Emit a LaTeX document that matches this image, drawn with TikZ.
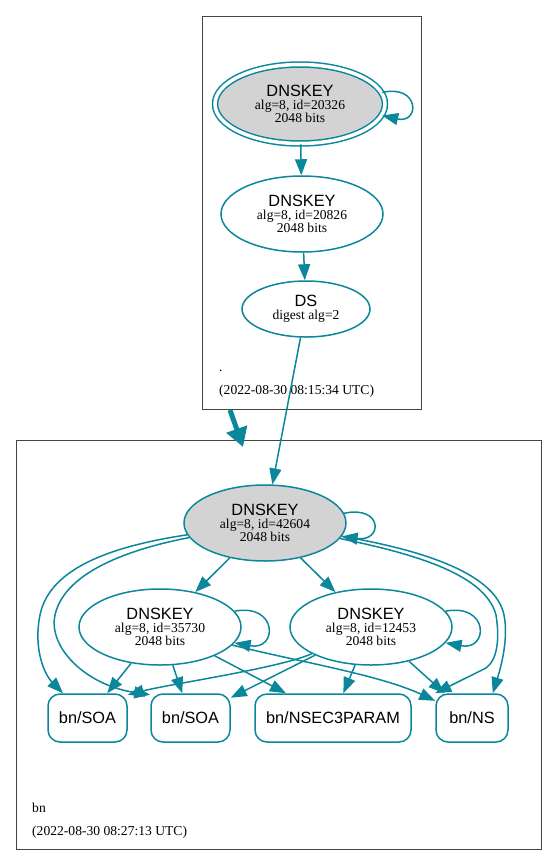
\documentclass[tikz,border=0pt]{standalone}
\usepackage{fontspec}
\setmainfont{Liberation Serif}
\newfontfamily\labelsans{Liberation Sans}
\usetikzlibrary{shapes.geometric,arrows.meta}
\definecolor{secure}{HTML}{0A879A}
\definecolor{zoneline}{HTML}{444444}
\definecolor{keyfill}{HTML}{D3D3D3}
\newcommand{\dnskeytext}[1]{{\labelsans\fontsize{16.3}{16}\selectfont DNSKEY}\\[-0.5pt] alg=8, id=#1\\[-1pt] 2048 bits}
\begin{document}
\begin{tikzpicture}[x=1pt,y=-1pt,
    keynode/.style={ellipse,draw=secure,line width=1.5pt,inner sep=0pt,minimum width=162pt,minimum height=76pt,align=center,font=\fontsize{13.6}{13.5}\selectfont},
    rrnode/.style={rectangle,rounded corners=12pt,draw=secure,line width=1.5pt,minimum height=48pt,font=\labelsans\fontsize{16.3}{18}\selectfont},
    secline/.style={draw=secure,line width=1.5pt,-{Triangle[length=16pt,width=12pt]}},
    zonetext/.style={anchor=base west,inner sep=0pt,font=\fontsize{13.6}{15}\selectfont}]
      \useasboundingbox (0,0) rectangle (557,865);
      % zones
      \draw[zoneline,line width=0.8pt] (202,16) rectangle (421,409);
      \draw[zoneline,line width=0.8pt] (16,440) rectangle (541,849);
      \node[zonetext] (rootname) at (219,371) {.};
      \node[zonetext] (roottime) at (219,394) {(2022-08-30 08:15:34 UTC)};
      \node[zonetext] (bnname) at (32,812) {bn};
      \node[zonetext] (bntime) at (32,835) {(2022-08-30 08:27:13 UTC)};
      % root zone
      \node[keynode,fill=keyfill,double,double distance=3.5pt,minimum width=170pt,minimum height=79pt] (ksk) at (300,104) {\dnskeytext{20326}};
      \node[keynode] (zsk) at (302,214) {\dnskeytext{20826}};
      \node[keynode,minimum width=128pt,minimum height=56pt] (ds) at (306,309) {{\labelsans\fontsize{16.3}{16}\selectfont DS}\\ digest alg=2};
      % bn zone
      \node[keynode,fill=keyfill] (bnksk) at (265,523) {\dnskeytext{42604}};
      \node[keynode] (bnzsk1) at (160,627) {\dnskeytext{35730}};
      \node[keynode] (bnzsk2) at (371,627) {\dnskeytext{12453}};
      \node[rrnode,minimum width=79pt] (soa1) at (87.5,718) {bn/SOA};
      \node[rrnode,minimum width=79pt] (soa2) at (190.5,718) {bn/SOA};
      \node[rrnode,minimum width=156pt] (nsec3param) at (333,718) {bn/NSEC3PARAM};
      \node[rrnode,minimum width=72pt] (ns) at (472,718) {bn/NS};
      % delegation
      \coordinate (zonetail) at (230,410);
      \coordinate (zonehead) at (243,447);
      \draw[secure,line width=5pt,-{Triangle[length=19pt,width=21pt]}] (zonetail) -- (zonehead);
      % chain of trust
      \draw[secline] (ksk.8) .. controls (420,84) and (420,124) .. (ksk.-8);
      \draw[secline] (ksk) -- (zsk);
      \draw[secline] (zsk) -- (ds);
      \draw[secline] (ds) -- (bnksk);
      \draw[secline] (bnksk.7) .. controls (383,505) and (383,542) .. (bnksk.-10);
      \draw[secline] (bnksk) -- (bnzsk1);
      \draw[secline] (bnksk) -- (bnzsk2);
      \draw[secline] (bnksk) .. controls (120,545) and (50,565) .. (40,615) .. controls (33,650) and (45,675) .. (soa1);
      \draw[secline] (bnksk) .. controls (135,548) and (65,570) .. (55,615) .. controls (48,647) and (85,685) .. (soa2.150);
      \draw[secline] (bnksk) .. controls (410,548) and (495,570) .. (504,615) .. controls (509,640) and (500,670) .. (ns.50);
      \draw[secline] (bnksk) .. controls (405,552) and (485,572) .. (496,615) .. controls (500,640) and (497,660) .. (486,668) -- (ns.north west);
      % signatures by 35730
      \draw[secline] (bnzsk1.12) .. controls (278,603) and (278,651) .. (bnzsk1.-12);
      \draw[secline] (bnzsk1) -- (soa1);
      \draw[secline] (bnzsk1) -- (soa2);
      \draw[secline] (bnzsk1) -- (nsec3param);
      \draw[secline] (bnzsk1) .. controls (300,662) and (380,675) .. (ns.155);
      % signatures by 12453
      \draw[secline] (bnzsk2.12) .. controls (489,603) and (489,651) .. (bnzsk2.-12);
      \draw[secline] (bnzsk2) .. controls (280,668) and (170,684) .. (soa1.30);
      \draw[secline] (bnzsk2) -- (soa2);
      \draw[secline] (bnzsk2) -- (nsec3param);
      \draw[secline] (bnzsk2) -- (ns);
    \end{tikzpicture}
\end{document}
